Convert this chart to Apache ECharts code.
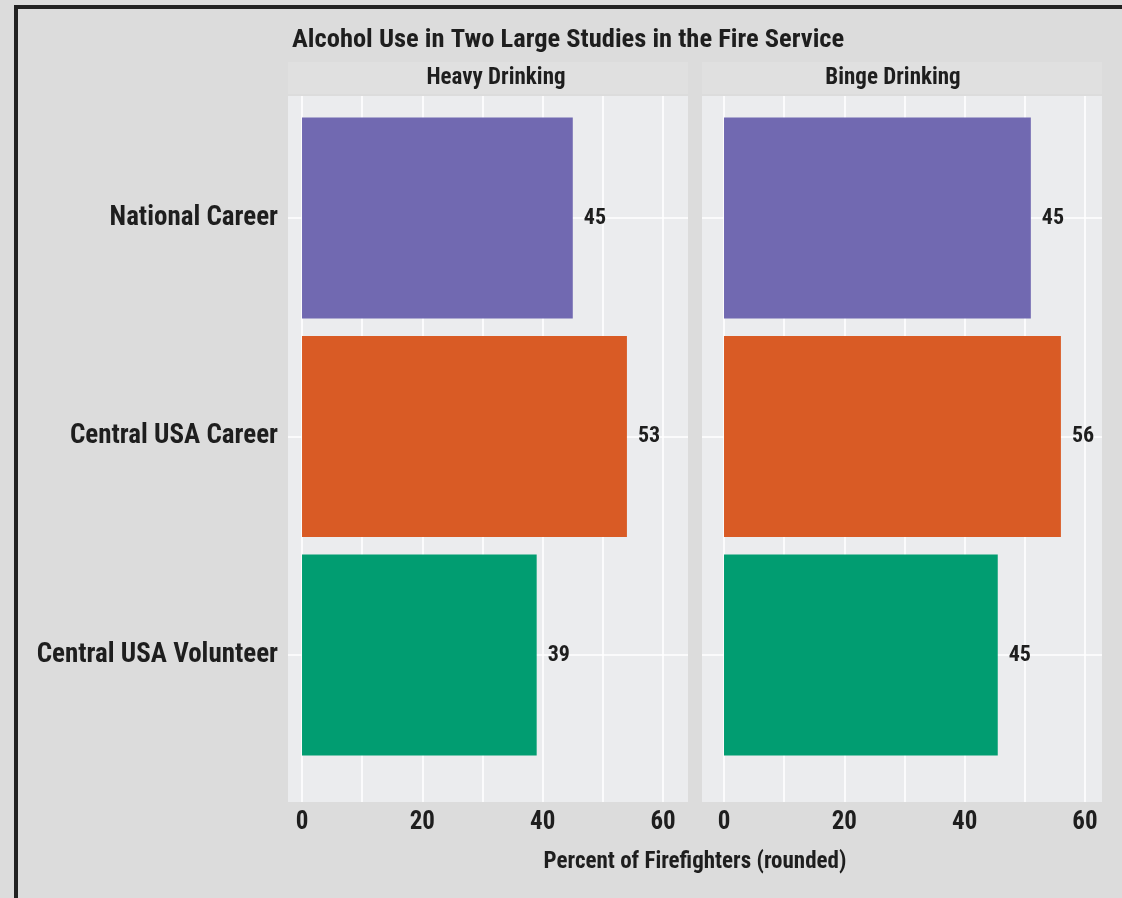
<!DOCTYPE html>
<html>
<head>
<meta charset="utf-8">
<script src="https://cdn.jsdelivr.net/npm/echarts@6/dist/echarts.min.js"></script>
<style>
  html, body { margin: 0; padding: 0; background: #DCDCDC; }
  #chart { width: 1122px; height: 898px; }
</style>
</head>
<body>
<div id="chart"></div>
<script>
// ---- data ----
const chartTitle = 'Alcohol Use in Two Large Studies in the Fire Service';
const panels = ['Heavy Drinking', 'Binge Drinking'];
const categories = ['National Career', 'Central USA Career', 'Central USA Volunteer'];
const heavyValues = [45, 54, 39];
const heavyLabels = ['45', '53', '39'];
const bingeValues = [51, 56, 45.5];
const bingeLabels = ['45', '56', '45'];
const barColors = ['#7169B1', '#D95B25', '#019D71'];
const xTickLabels = [0, 20, 40, 60];
const xGridValues = [0, 10, 20, 30, 40, 50, 60];
const yGridValues = [1, 2, 3];
const xAxisTitle = 'Percent of Firefighters (rounded)';

const FONT = "'Liberation Sans Narrow', 'Arial Narrow', 'Roboto Condensed', 'DejaVu Sans Condensed', sans-serif";
const TXT = '#1e1e1e';
const PANEL_BG = '#EBECEE';
const STRIP_BG = '#E0E0E0';

const panelBox = [
  { left: 288, width: 400, xmin: -2.33, xmax: 64.15, stripTextX: 496 },
  { left: 702, width: 400, xmin: -3.66, xmax: 62.83, stripTextX: 893 }
];
const panelTop = 96, panelHeight = 706;
const barTop = 108.75, barHeight = 655.5;

const chart = echarts.init(document.getElementById('chart'));

const grids = [], xAxes = [], yAxes = [], series = [];
panelBox.forEach((p, i) => {
  grids.push({ left: p.left, top: panelTop, width: p.width, height: panelHeight,
    show: true, backgroundColor: PANEL_BG, borderWidth: 0 });
  grids.push({ left: p.left, top: barTop, width: p.width, height: barHeight, show: false });
  const gA = i * 2, gB = i * 2 + 1;
  xAxes.push({
    type: 'value', gridIndex: gA, min: p.xmin, max: p.xmax,
    axisLine: { show: false },
    axisTick: { show: false, customValues: xGridValues },
    axisLabel: { customValues: xTickLabels, fontFamily: FONT, fontWeight: 'bold', fontSize: 25, color: TXT, margin: 8 },
    splitLine: { show: true, lineStyle: { color: '#FFFFFF', width: 1.6 } }
  });
  xAxes.push({ type: 'value', gridIndex: gB, min: p.xmin, max: p.xmax, show: false });
  yAxes.push({
    type: 'value', gridIndex: gA, inverse: true, min: 0.4416, max: 3.673,
    axisLine: { show: false },
    axisTick: { show: false, customValues: yGridValues },
    axisLabel: { show: false, customValues: yGridValues },
    splitLine: { show: true, lineStyle: { color: '#FFFFFF', width: 1.6 } }
  });
  yAxes.push({
    type: 'category', gridIndex: gB, data: categories, inverse: true,
    axisLine: { show: false }, axisTick: { show: false }, splitLine: { show: false },
    axisLabel: { show: i === 0, fontFamily: FONT, fontWeight: 'bold', fontSize: 27, color: TXT, margin: 10 }
  });
  const vals = i === 0 ? heavyValues : bingeValues;
  const labs = i === 0 ? heavyLabels : bingeLabels;
  series.push({
    type: 'bar', xAxisIndex: gB, yAxisIndex: gB, z: 3,
    barCategoryGap: '8%',
    data: vals.map((v, k) => ({ value: v, itemStyle: { color: barColors[k] } })),
    label: {
      show: true, position: 'right', distance: 11,
      formatter: (pr) => labs[pr.dataIndex],
      fontFamily: FONT, fontWeight: 'bold', fontSize: 22, color: TXT
    }
  });
});

const graphics = [];
panelBox.forEach((p, i) => {
  graphics.push({ type: 'rect', shape: { x: p.left, y: 62, width: p.width, height: 32 },
    style: { fill: STRIP_BG }, z: 0 });
  graphics.push({ type: 'text', x: p.stripTextX, y: 78,
    style: { text: panels[i], font: "bold 23px " + FONT, fill: TXT, align: 'center', verticalAlign: 'middle' } });
});
graphics.push({ type: 'rect', shape: { x: 16, y: 7, width: 1300, height: 1000 },
  style: { fill: 'none', stroke: '#222222', lineWidth: 4 }, z: 10 });

chart.setOption({
  backgroundColor: '#DCDCDC',
  animation: false,
  title: [
    { text: chartTitle, left: 287, top: 22,
      textStyle: { fontFamily: FONT, fontWeight: 'bold', fontSize: 26.5, color: TXT } },
    { text: xAxisTitle, left: 690, top: 846, textAlign: 'center',
      textStyle: { fontFamily: FONT, fontWeight: 'bold', fontSize: 23, color: TXT } }
  ],
  grid: grids,
  xAxis: xAxes,
  yAxis: yAxes,
  series: series,
  graphic: graphics
});
</script>
</body>
</html>
